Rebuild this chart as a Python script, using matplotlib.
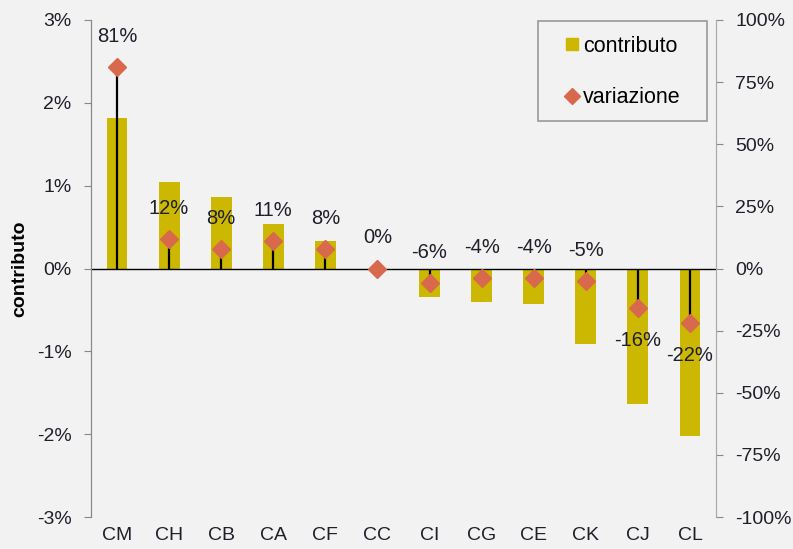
import numpy as np
import matplotlib.pyplot as plt
from matplotlib.lines import Line2D
from matplotlib.patches import Rectangle
from matplotlib.ticker import FuncFormatter

plt.rcParams['font.family'] = ['Liberation Sans', 'DejaVu Sans']

# data
categorie = ['CM', 'CH', 'CB', 'CA', 'CF', 'CC', 'CI', 'CG', 'CE', 'CK', 'CJ', 'CL']
contributo = [1.82, 1.04, 0.86, 0.54, 0.33, 0.0, -0.34, -0.40, -0.43, -0.91, -1.64, -2.02]
variazione = [81, 12, 8, 11, 8, 0, -6, -4, -4, -5, -16, -22]
etichette_sotto = ['CJ', 'CL']  # labels placed under the diamond

bar_color = '#CCB800'
diam_color = '#D9694C'
bg = '#F2F2F2'
text_color = '#1F1F2A'
W, H = 793, 549

fig = plt.figure(figsize=(W / 100, H / 100), dpi=100, facecolor=bg)
ax = fig.add_axes([91 / W, 1 - 517 / H, 625 / W, 497 / H])
ax.set_facecolor(bg)
x = np.arange(len(categorie))

ax.bar(x, contributo, width=0.4, color=bar_color, zorder=2)
ax.axhline(0, color='black', lw=1, zorder=3)
ax.set_xlim(-0.5, len(categorie) - 0.5)
ax.set_ylim(-3, 3)
ax.set_yticks(np.arange(-3, 4, 1))
ax.yaxis.set_major_formatter(FuncFormatter(lambda v, p: '%d%%' % v))
ax.set_xticks(x)
ax.set_xticklabels(categorie)
ax.tick_params(axis='x', length=0, pad=7, labelsize=14, labelcolor=text_color)
ax.tick_params(axis='y', length=5, pad=9, color='#888888', labelsize=14, labelcolor=text_color)
ax.set_ylabel('contributo', fontsize=14, fontweight='bold')
ax.yaxis.set_label_coords(-0.10, 0.5)

ax2 = ax.twinx()
ax2.set_ylim(-100, 100)
ax2.set_yticks(np.arange(-100, 101, 25))
ax2.yaxis.set_major_formatter(FuncFormatter(lambda v, p: '%d%%' % v))
ax2.tick_params(axis='y', length=5, pad=9, color='#888888', labelsize=14, labelcolor=text_color)
ax2.vlines(x, 0, variazione, color='black', lw=1.6, zorder=3)
ax2.plot(x, variazione, linestyle='none', marker='D', ms=9, color=diam_color, zorder=4)

for i, v in enumerate(variazione):
    dy = -23 if categorie[i] in etichette_sotto else 22
    ax2.annotate('%d%%' % v, (x[i], v), xytext=(0, dy), textcoords='offset points',
                 ha='center', va='center', fontsize=14.5, color=text_color)

for a in (ax, ax2):
    a.spines['top'].set_visible(False)
    a.spines['bottom'].set_visible(False)
    a.spines['left'].set_color('#888888')
    a.spines['right'].set_color('#AAAAAA')

# legend box
fig.patches.append(Rectangle((538 / W, 1 - 121 / H), 169 / W, 100 / H,
                             transform=fig.transFigure, fill=False,
                             edgecolor='#999999', lw=1.2))
handles = [Line2D([], [], linestyle='none', marker='s', ms=8, color=bar_color),
           Line2D([], [], linestyle='none', marker='D', ms=8, color=diam_color)]
ax2.legend(handles, ['contributo', 'variazione'], loc='center',
           bbox_to_anchor=(622 / W, 1 - 72 / H), bbox_transform=fig.transFigure,
           fontsize=15.5, frameon=False, labelspacing=1.4, handletextpad=0.1,
           handlelength=0.8, borderpad=0.0)

fig.savefig('out.png', dpi=100, facecolor=bg)
